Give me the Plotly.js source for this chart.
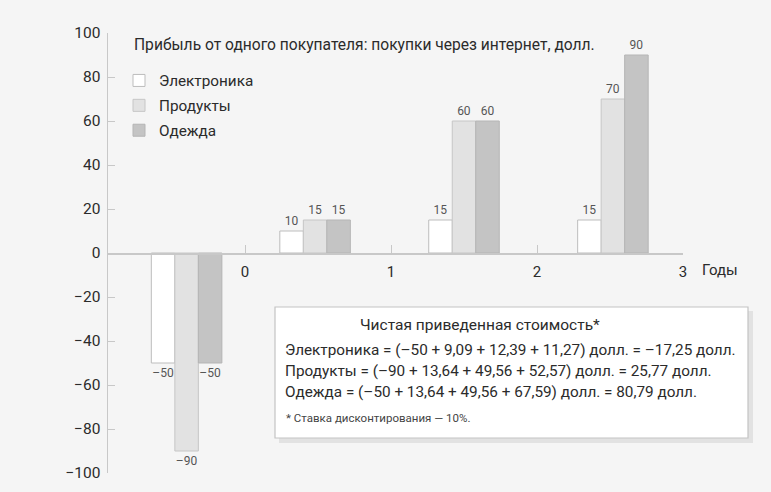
<!DOCTYPE html>
<html>
<head>
<meta charset="utf-8">
<script src="https://cdn.plot.ly/plotly-3.0.1.min.js"></script>
<style>html,body{margin:0;padding:0;background:#f5f5f5;}#chart{width:771px;height:492px;}</style>
</head>
<body>
<div id="chart"></div>
<script>
// Periods (bar-group positions along the year axis)
const periodPos = [-0.4, 0.48, 1.5, 2.52];
const seriesNames = ["Электроника", "Продукты", "Одежда"];
const electronics = [-50, 10, 15, 15];
const products = [-90, 15, 60, 70];
const clothing = [-50, 15, 60, 90];
const yearTicks = [0, 1, 2, 3];
const yearLabels = ["0", "1", "2", "3"];
const chartTitle = "Прибыль от одного покупателя: покупки через интернет, долл.";
const npvTitle = "Чистая приведенная стоимость*";
const npvLines = [
  "Электроника = (–50 + 9,09 + 12,39 + 11,27) долл. = –17,25 долл.",
  "Продукты = (–90 + 13,64 + 49,56 + 52,57) долл. = 25,77 долл.",
  "Одежда = (–50 + 13,64 + 49,56 + 67,59) долл. = 80,79 долл."
];
const footnote = "* Ставка дисконтирования — 10%.";

const FONT = "Roboto, 'Noto Sans', sans-serif";
const TXT = "#2b2b2b";
const fills = ["#ffffff", "#e2e2e2", "#c4c4c4"];
const lines = ["#bdbdbd", "#c6c6c6", "#b5b5b5"];
const allSeries = [electronics, products, clothing];
const bw = 0.161;

const traces = allSeries.map((vals, i) => ({
  type: "bar",
  name: seriesNames[i],
  legendgroup: "g" + i,
  x: periodPos,
  y: vals,
  width: bw,
  offset: -1.5 * bw + i * bw,
  marker: {color: fills[i], line: {color: lines[i], width: 1}},
  text: vals.map(v => String(v).replace("-", "–")),
  textposition: "outside",
  constraintext: "none",
  cliponaxis: false,
  textfont: {family: FONT, size: 12, color: "#555"},
  hoverinfo: "skip"
}));

const L = 108, R = 683, T = 33, B = 473, W = 771, H = 492;
const px = v => (v - L) / (R - L);
const py = v => (B - v) / (B - T);

const annotations = [
  {text: "Годы", xref: "paper", yref: "paper", x: px(700), y: py(270), xanchor: "left", yanchor: "middle",
   showarrow: false, font: {family: FONT, size: 15, color: TXT}},
  {text: npvTitle, xref: "paper", yref: "paper", x: px(480), y: py(325), xanchor: "center", yanchor: "middle",
   showarrow: false, font: {family: FONT, size: 15.5, color: TXT}},
  {text: footnote, xref: "paper", yref: "paper", x: px(284), y: py(418), xanchor: "left", yanchor: "middle",
   showarrow: false, font: {family: FONT, size: 11.5, color: "#444"}}
];
npvLines.forEach((t, i) => annotations.push({
  text: t, xref: "paper", yref: "paper", x: px(283), y: py(350 + i * 21.2), xanchor: "left", yanchor: "middle",
  showarrow: false, font: {family: FONT, size: 15.3, color: TXT}
}));

const layout = {
  width: W, height: H,
  margin: {l: L, r: W - R, t: T, b: H - B},
  paper_bgcolor: "#f5f5f5",
  plot_bgcolor: "rgba(0,0,0,0)",
  barmode: "overlay",
  showlegend: true,
  title: {text: chartTitle, x: 134 / W, xanchor: "left", y: 1 - 45 / H, yanchor: "middle",
          font: {family: FONT, size: 15.6, color: TXT}},
  legend: {x: px(119), y: py(64), xanchor: "left", yanchor: "top", bgcolor: "rgba(0,0,0,0)",
           font: {family: FONT, size: 15.3, color: TXT}, tracegroupgap: 2, traceorder: "grouped"},
  xaxis: {
    range: [(L - 245) / 146, 3], anchor: "free", position: 0.5,
    showgrid: false, zeroline: false, showline: true, linecolor: "#c8c8c8", linewidth: 1.5,
    tickmode: "array", tickvals: yearTicks, ticktext: yearLabels,
    ticks: "inside", ticklen: 8, tickcolor: "#c8c8c8", tickwidth: 1, ticklabelstandoff: 4,
    tickfont: {family: FONT, size: 15, color: TXT}, fixedrange: true
  },
  yaxis: {
    range: [-100, 100], dtick: 20, showgrid: false, zeroline: false,
    showline: true, linecolor: "#c8c8c8", linewidth: 1.5,
    ticks: "inside", ticklen: 7, tickcolor: "#c8c8c8", tickwidth: 1, ticklabelstandoff: 3,
    tickfont: {family: FONT, size: 15.5, color: TXT}, fixedrange: true
  },
  shapes: [
    {type: "rect", xref: "paper", yref: "paper", x0: px(279), x1: px(753), y0: py(443), y1: py(311),
     fillcolor: "#e2e2e2", line: {width: 0}, layer: "above"},
    {type: "rect", xref: "paper", yref: "paper", x0: px(275), x1: px(748), y0: py(438), y1: py(307),
     fillcolor: "#ffffff", line: {color: "#c4c4c4", width: 1.2}, layer: "above"}
  ],
  annotations: annotations
};

Plotly.newPlot("chart", traces, layout, {displayModeBar: false, staticPlot: true});
</script>
</body>
</html>
